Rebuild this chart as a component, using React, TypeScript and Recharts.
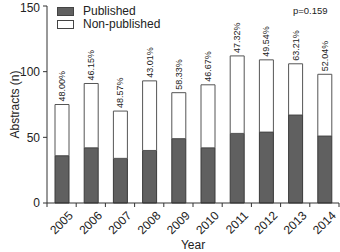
import { BarChart, Bar, XAxis, YAxis, LabelList } from "recharts";

const years = ["2005", "2006", "2007", "2008", "2009", "2010", "2011", "2012", "2013", "2014"];
const published = [36, 42, 34, 40, 49, 42, 53, 54, 67, 51];
const nonPublished = [39, 49, 36, 53, 35, 48, 59, 55, 39, 47];
const shareLabels = ["48.00%", "46.15%", "48.57%", "43.01%", "58.33%", "46.67%", "47.32%", "49.54%", "63.21%", "52.04%"];
const yTicks = [0, 50, 100, 150];

const data = years.map((year, i) => ({
  year,
  published: published[i],
  nonPublished: nonPublished[i],
  share: shareLabels[i],
}));

const FONT = "'Liberation Sans', Arial, sans-serif";
const BAND = 292 / years.length;
const AXIS_Y = 203;

// ticks sit between the years, labels run diagonally under each bar
const YearTick = (props: any) => {
  const { x, payload } = props;
  const tx = x + 6;
  const ty = AXIS_Y + 7;
  return (
    <g>
      <line x1={x - BAND / 2} y1={AXIS_Y} x2={x - BAND / 2} y2={AXIS_Y + 4} stroke="#333" />
      {payload.index === years.length - 1 && (
        <line x1={x + BAND / 2} y1={AXIS_Y} x2={x + BAND / 2} y2={AXIS_Y + 4} stroke="#333" />
      )}
      <text
        x={tx}
        y={ty}
        transform={`rotate(-45 ${tx} ${ty})`}
        textAnchor="end"
        dominantBaseline="hanging"
        fontSize={12}
        fontFamily={FONT}
        fill="#222"
      >
        {payload.value}
      </text>
    </g>
  );
};

const ShareLabel = (props: any) => {
  const { x, y, width, value } = props;
  const cx = x + width / 2 + 3;
  const cy = y - 3;
  return (
    <text
      x={cx}
      y={cy}
      transform={`rotate(-90 ${cx} ${cy})`}
      textAnchor="start"
      fontSize={9}
      fontFamily={FONT}
      fill="#222"
    >
      {value}
    </text>
  );
};

const legendItems = [
  { name: "Published", fill: "#606060" },
  { name: "Non-published", fill: "#ffffff" },
];

export default function App() {
  return (
    <div style={{ position: "absolute", left: 0, top: 0, width: 340, height: 252, background: "#fff" }}>
      <BarChart
        width={340}
        height={252}
        data={data}
        margin={{ top: 6, right: 1, left: 0, bottom: 0 }}
        barSize={14}
      >
        <XAxis
          dataKey="year"
          height={49}
          tickLine={false}
          axisLine={{ stroke: "#333" }}
          tick={<YearTick />}
          interval={0}
          label={{ value: "Year", position: "insideBottom", offset: 3, fontSize: 12, fontFamily: FONT, fill: "#222" }}
        />
        <YAxis
          width={47}
          domain={[0, 150]}
          ticks={yTicks}
          tickSize={4}
          tickMargin={3}
          axisLine={{ stroke: "#333" }}
          tickLine={{ stroke: "#333" }}
          tick={{ fontSize: 12, fontFamily: FONT, fill: "#222" }}
          label={{
            value: "Abstracts (n)",
            angle: -90,
            position: "insideLeft",
            offset: 15,
            style: { textAnchor: "middle", fontSize: 12, fontFamily: FONT, fill: "#222" },
          }}
        />
        <Bar dataKey="published" stackId="a" fill="#606060" stroke="#3a3a3a" isAnimationActive={false} />
        <Bar dataKey="nonPublished" stackId="a" fill="#ffffff" stroke="#555" isAnimationActive={false}>
          <LabelList dataKey="share" content={<ShareLabel />} />
        </Bar>
      </BarChart>
      <div
        style={{
          position: "absolute",
          left: 57,
          top: 5,
          fontFamily: FONT,
          fontSize: 12,
          color: "#222",
          lineHeight: "13px",
        }}
      >
        {legendItems.map((item) => (
          <div key={item.name} style={{ display: "flex", alignItems: "center", height: 13 }}>
            <span
              style={{
                display: "inline-block",
                width: 15,
                height: 7,
                background: item.fill,
                border: "1px solid #444",
                marginRight: 9,
              }}
            />
            {item.name}
          </div>
        ))}
      </div>
      <div
        style={{
          position: "absolute",
          left: 293,
          top: 5,
          fontFamily: FONT,
          fontSize: 9.5,
          color: "#222",
        }}
      >
        p=0.159
      </div>
    </div>
  );
}
